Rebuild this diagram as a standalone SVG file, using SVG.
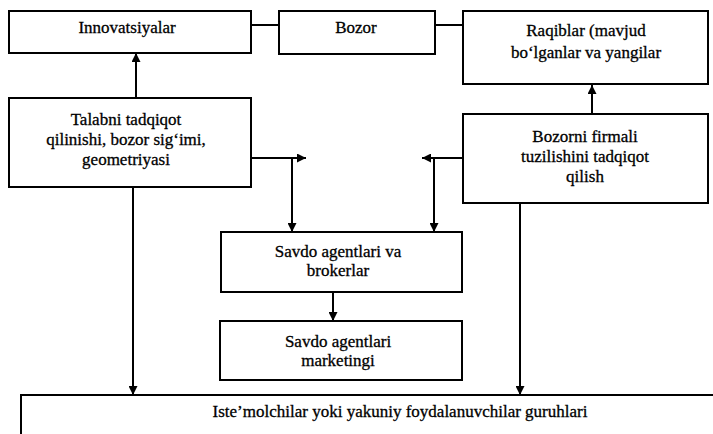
<svg xmlns="http://www.w3.org/2000/svg" width="713" height="434" viewBox="0 0 713 434">
<style>
.box{fill:#fff;stroke:#000;stroke-width:2}
.ln{fill:none;stroke:#000;stroke-width:2}
text{font-family:'Liberation Serif','Times New Roman',serif;font-size:17px;fill:#000;text-anchor:middle;stroke:#000;stroke-width:0.3}
</style>
<defs>
<marker id="ah" viewBox="0 0 10 10" refX="10" refY="5" markerWidth="4.5" markerHeight="4.5" orient="auto" markerUnits="strokeWidth">
<path d="M0,0 L10,5 L0,10 z" fill="#000"/>
</marker>
</defs>
<rect width="713" height="434" fill="#fff"/>
<g id="connectors">
<line class="ln" x1="251" y1="25" x2="279" y2="25"/>
<line class="ln" x1="435" y1="25" x2="463" y2="25"/>
<line class="ln" x1="136" y1="98" x2="136" y2="53" marker-end="url(#ah)"/>
<line class="ln" x1="592" y1="114" x2="592" y2="85" marker-end="url(#ah)"/>
<line class="ln" x1="251" y1="158" x2="306" y2="158" marker-end="url(#ah)"/>
<line class="ln" x1="292" y1="158" x2="292" y2="232" marker-end="url(#ah)"/>
<line class="ln" x1="463" y1="158" x2="422" y2="158" marker-end="url(#ah)"/>
<line class="ln" x1="434" y1="158" x2="434" y2="232" marker-end="url(#ah)"/>
<line class="ln" x1="333" y1="292" x2="333" y2="321" marker-end="url(#ah)"/>
<line class="ln" x1="133" y1="187" x2="133" y2="395" marker-end="url(#ah)"/>
<line class="ln" x1="520" y1="203" x2="520" y2="395" marker-end="url(#ah)"/>
</g>
<g id="innovatsiyalar">
<rect class="box" x="9" y="11" width="242" height="42"/>
<text x="127" y="33">Innovatsiyalar</text>
</g>
<g id="bozor">
<rect class="box" x="279" y="11" width="156" height="43"/>
<text x="356" y="33">Bozor</text>
</g>
<g id="raqiblar">
<rect class="box" x="463" y="11" width="245" height="73"/>
<text x="586" y="36">Raqiblar (mavjud</text>
<text x="586" y="58">bo‘lganlar va yangilar</text>
</g>
<g id="talabni">
<rect class="box" x="9" y="98" width="242" height="89"/>
<text x="126" y="125">Talabni tadqiqot</text>
<text x="126" y="145">qilinishi, bozor sig‘imi,</text>
<text x="126" y="165">geometriyasi</text>
</g>
<g id="bozorni">
<rect class="box" x="463" y="114" width="245" height="89"/>
<text x="585" y="142">Bozorni firmali</text>
<text x="585" y="162">tuzilishini tadqiqot</text>
<text x="585" y="182">qilish</text>
</g>
<g id="savdo-brokerlar">
<rect class="box" x="221" y="232" width="241" height="60"/>
<text x="338" y="257">Savdo agentlari va</text>
<text x="338" y="276">brokerlar</text>
</g>
<g id="savdo-marketingi">
<rect class="box" x="220" y="321" width="242" height="59"/>
<text x="338" y="347">Savdo agentlari</text>
<text x="338" y="366">marketingi</text>
</g>
<g id="iste-molchilar">
<path class="ln" d="M21,434 L21,395 L713,395"/>
<text x="400" y="417">Iste’molchilar yoki yakuniy foydalanuvchilar guruhlari</text>
</g>
</svg>
